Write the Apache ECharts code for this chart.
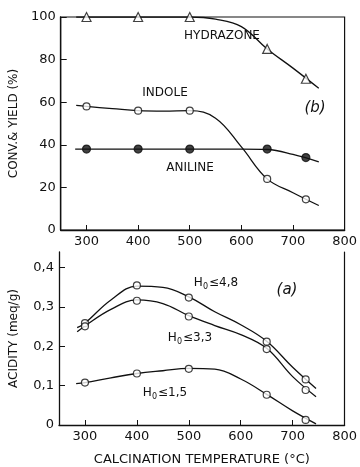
<!DOCTYPE html>
<html lang="en">
<head>
<meta charset="UTF-8">
<title>Calcination temperature</title>
<script src="https://cdn.jsdelivr.net/npm/echarts@6/dist/echarts.min.js"></script>
<style>
body {margin: 0; background: #fff;}
#main {width: 360px; height: 467px;}
</style>
</head>
<body>
<div id="main"></div>
<script>
// measured points (calcination temperature, degC)
var temps = [300, 400, 500, 650, 725];
var hydrazonePts = [100, 100, 100, 85, 71];
var indolePts = [58, 56, 56, 24, 14.4];
var anilinePts = [38, 38, 38, 38, 34];

var hydrazoneCurve = [[280, 100], [350, 100], [400, 100], [450, 100], [500, 100], [550, 99], [600, 95.5], [650, 85], [700, 76], [750, 66.5]];
var indoleCurve = [[280, 58.5], [300, 58], [350, 57], [400, 56], [450, 55.8], [500, 56], [550, 52.5], [600, 39], [650, 24], [700, 17.5], [750, 11.5]];
var anilineCurve = [[278, 38], [350, 38], [400, 38], [450, 38], [500, 38], [550, 38], [600, 38], [650, 37.8], [700, 35.5], [750, 32]];

var h48Pts = [0.259, 0.355, 0.324, 0.212, 0.116];
var h33Pts = [0.251, 0.316, 0.276, 0.193, 0.089];
var h15Pts = [0.108, 0.131, 0.143, 0.077, 0.013];

var h48Curve = [[285, 0.2475], [300, 0.259], [350, 0.318], [400, 0.353], [450, 0.35], [500, 0.326], [550, 0.288], [600, 0.255], [650, 0.213], [700, 0.147], [745, 0.093]];
var h33Curve = [[285, 0.237], [300, 0.252], [350, 0.294], [400, 0.318], [450, 0.309], [500, 0.278], [550, 0.253], [600, 0.23], [650, 0.195], [700, 0.123], [745, 0.072]];
var h15Curve = [[283, 0.105], [300, 0.108], [350, 0.12], [400, 0.131], [450, 0.138], [500, 0.144], [550, 0.142], [600, 0.117], [650, 0.078], [700, 0.036], [745, 0.003]];

var xTicks = [300, 400, 500, 600, 700];
var xLabels = [300, 400, 500, 600, 700, 800];
var botYTicks = [0, 0.1, 0.2, 0.3, 0.4];

var ink = '#111';
var font = 'DejaVu Sans';

function pts(ys) {
    return temps.map(function (t, i) { return [t, ys[i]]; });
}

function curve(data, xi) {
    return {
        type: 'line', xAxisIndex: xi, yAxisIndex: xi, data: data,
        smooth: 0.4, showSymbol: false, silent: true,
        lineStyle: {color: ink, width: 1.3}
    };
}

function marks(data, xi, symbol, size, fill) {
    return {
        type: 'scatter', xAxisIndex: xi, yAxisIndex: xi, data: data,
        symbol: symbol, symbolSize: size, z: 5,
        itemStyle: {color: fill, borderColor: ink, borderWidth: 1.2}
    };
}

function xAxis(gi, name) {
    return {
        type: 'value', gridIndex: gi, min: 250, max: 800, interval: 50,
        name: name, nameLocation: 'middle', nameGap: 28,
        nameTextStyle: {color: ink, fontFamily: font, fontSize: 13},
        axisLine: {onZero: false, lineStyle: {color: ink, width: 1.3}},
        axisTick: {inside: true, length: 5, customValues: xTicks, lineStyle: {color: ink}},
        axisLabel: {customValues: xLabels, margin: 5, color: ink, fontFamily: font, fontSize: 13},
        splitLine: {show: false}
    };
}

function hLabel(x, y, rest) {
    return {type: 'text', x: x, y: y, style: {
        text: '{h|H}{s|0}{h|' + rest + '}', align: 'center', verticalAlign: 'middle',
        rich: {
            h: {fontFamily: font, fontSize: 12, fill: ink, lineHeight: 16},
            s: {fontFamily: font, fontSize: 8, fill: ink, lineHeight: 16, verticalAlign: 'bottom', padding: [0, 1, 0, 0]}
        }
    }};
}

var chart = echarts.init(document.getElementById('main'));

chart.setOption({
    backgroundColor: '#fff',
    animation: false,
    grid: [
        {left: 57, right: 13, top: 17, height: 213, show: true, borderColor: ink, borderWidth: 1.2},
        {left: 57, right: 13, top: 252, height: 176}
    ],
    xAxis: [xAxis(0, ''), xAxis(1, 'CALCINATION TEMPERATURE (°C)')],
    yAxis: [
        {
            type: 'value', gridIndex: 0, min: 0, max: 100, interval: 20,
            name: 'CONV.& YIELD (%)', nameLocation: 'middle', nameGap: 39,
            nameTextStyle: {color: ink, fontFamily: font, fontSize: 12},
            axisLine: {lineStyle: {color: ink, width: 1.3}},
            axisTick: {inside: true, length: 6, lineStyle: {color: ink}},
            axisLabel: {margin: 5, color: ink, fontFamily: font, fontSize: 13},
            splitLine: {show: false}
        },
        {
            type: 'value', gridIndex: 1, min: 0, max: 0.44,
            name: 'ACIDITY (meq/g)', nameLocation: 'middle', nameGap: 39,
            nameTextStyle: {color: ink, fontFamily: font, fontSize: 12},
            axisLine: {lineStyle: {color: ink, width: 1.3}},
            axisTick: {inside: true, length: 6, customValues: botYTicks, lineStyle: {color: ink}},
            axisLabel: {
                customValues: botYTicks, margin: 5, color: ink, fontFamily: font, fontSize: 13,
                formatter: function (v) { return v === 0 ? '0' : v.toFixed(1).replace('.', ','); }
            },
            splitLine: {show: false}
        },
        {
            type: 'value', gridIndex: 1, min: 0, max: 0.44, position: 'right',
            axisLine: {show: true, lineStyle: {color: ink, width: 1.2}},
            axisTick: {show: false}, axisLabel: {show: false}, splitLine: {show: false}
        }
    ],
    series: [
        curve(hydrazoneCurve, 0),
        curve(indoleCurve, 0),
        curve(anilineCurve, 0),
        marks(pts(hydrazonePts), 0, 'triangle', 9, '#fff'),
        marks(pts(indolePts), 0, 'circle', 7, '#fff'),
        marks(pts(anilinePts), 0, 'circle', 8, ink),
        curve(h48Curve, 1),
        curve(h33Curve, 1),
        curve(h15Curve, 1),
        marks(pts(h48Pts), 1, 'circle', 7, '#fff'),
        marks(pts(h33Pts), 1, 'circle', 7, '#fff'),
        marks(pts(h15Pts), 1, 'circle', 7, '#fff')
    ],
    graphic: [
        {type: 'text', x: 222, y: 36, style: {text: 'HYDRAZONE', fontFamily: font, fontSize: 12, fill: ink, align: 'center', verticalAlign: 'middle'}},
        {type: 'text', x: 165, y: 93, style: {text: 'INDOLE', fontFamily: font, fontSize: 12, fill: ink, align: 'center', verticalAlign: 'middle'}},
        {type: 'text', x: 190, y: 168, style: {text: 'ANILINE', fontFamily: font, fontSize: 12, fill: ink, align: 'center', verticalAlign: 'middle'}},
        {type: 'text', x: 315, y: 108, style: {text: '(b)', fontFamily: font, fontSize: 15, fontStyle: 'italic', fill: ink, align: 'center', verticalAlign: 'middle'}},
        {type: 'text', x: 287, y: 290, style: {text: '(a)', fontFamily: font, fontSize: 15, fontStyle: 'italic', fill: ink, align: 'center', verticalAlign: 'middle'}},
        hLabel(216, 283, '≤4,8'),
        hLabel(190, 338, '≤3,3'),
        hLabel(165, 393, '≤1,5')
    ]
});
</script>
</body>
</html>
